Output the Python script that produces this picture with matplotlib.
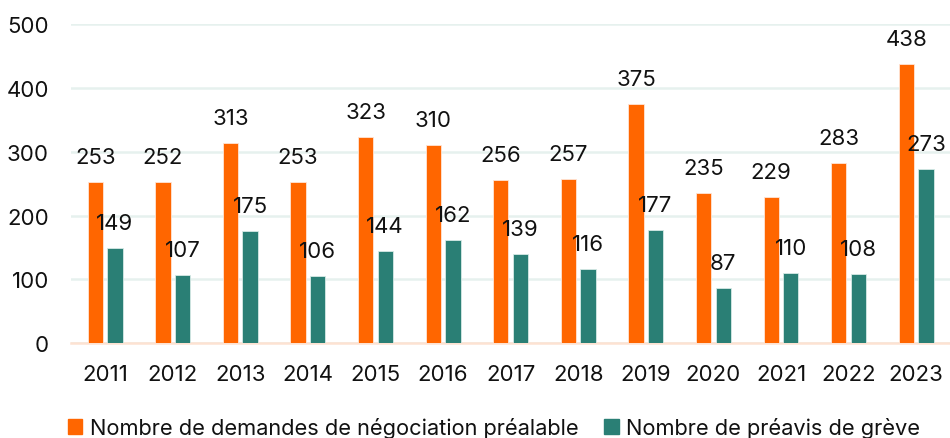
import numpy as np
import matplotlib.pyplot as plt
from matplotlib.patches import Patch

years = ['2011', '2012', '2013', '2014', '2015', '2016', '2017',
         '2018', '2019', '2020', '2021', '2022', '2023']
demandes = [253, 252, 313, 253, 323, 310, 256, 257, 375, 235, 229, 283, 438]
preavis = [149, 107, 175, 106, 144, 162, 139, 116, 177, 87, 110, 108, 273]

orange = '#FF6600'
teal = '#2A7F75'

plt.rcParams['font.family'] = ['Inter', 'DejaVu Sans']

fig = plt.figure(figsize=(9.5, 4.39), dpi=100)
ax = fig.add_axes([0.075, 0.216, 0.925, 0.727])

x = np.arange(len(years))
w = 0.227
off = 0.145
b1 = ax.bar(x - off, demandes, w, color=orange, edgecolor='#FFE5D6', linewidth=0.6, zorder=3)
b2 = ax.bar(x + off, preavis, w, color=teal, edgecolor='#D6EAE6', linewidth=0.6, zorder=3)

for bars, vals in ((b1, demandes), (b2, preavis)):
    for r, v in zip(bars, vals):
        ax.annotate(str(v), (r.get_x() + r.get_width() / 2, v),
                    xytext=(0, 18), textcoords='offset points',
                    ha='center', va='center', fontsize=16, color='#111111', zorder=4,
                    annotation_clip=False)

ax.set_xlim(-0.5, 12.5)
ax.set_ylim(0, 500)
ax.set_yticks([0, 100, 200, 300, 400, 500])
ax.set_xticks(x)
ax.set_xticklabels(years)
ax.tick_params(axis='both', length=0, labelsize=16, colors='#111111')
ax.tick_params(axis='x', pad=15)
ax.tick_params(axis='y', pad=16)
ax.grid(axis='y', color='#E6F1EE', linewidth=1.8, zorder=0)
for s in ['top', 'right', 'left']:
    ax.spines[s].set_visible(False)
ax.spines['bottom'].set_color('#FDE2D2')
ax.spines['bottom'].set_linewidth(1.8)
ax.spines['bottom'].set_zorder(2)

handles = [Patch(color=orange, label='Nombre de demandes de négociation préalable'),
           Patch(color=teal, label='Nombre de préavis de grève')]
fig.legend(handles=handles, loc='center', bbox_to_anchor=(0.52, 0.024), ncol=2,
           frameon=False, fontsize=15.7, handlelength=0.65, handleheight=0.65,
           handletextpad=0.35, columnspacing=1.2, labelcolor='#111111')

fig.savefig('out.png', dpi=100)
